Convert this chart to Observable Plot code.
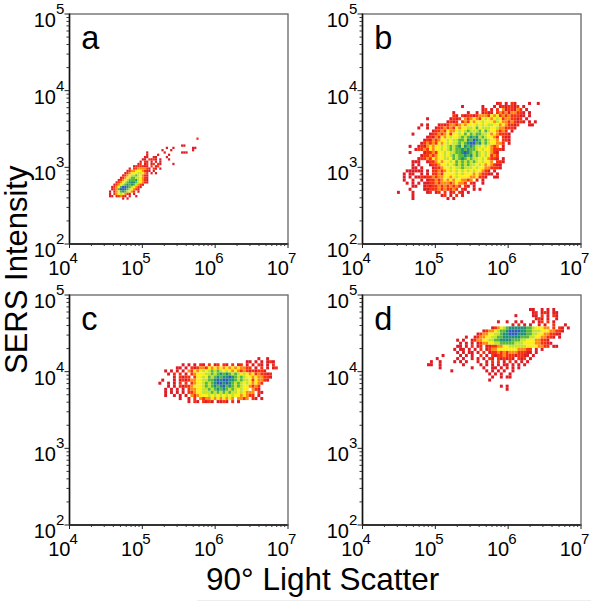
<!DOCTYPE html>
<html><head><meta charset="utf-8">
<script src="https://cdn.jsdelivr.net/npm/d3@7"></script>
<script src="https://cdn.jsdelivr.net/npm/@observablehq/plot@0.6"></script>
<style>
html,body{margin:0;padding:0;background:#fff;}
#page{position:relative;width:591px;height:601px;overflow:hidden;font-family:"Liberation Sans",Arial,sans-serif;color:#000;}
#page svg{position:absolute;overflow:visible;background:transparent;}
.t{position:absolute;white-space:nowrap;line-height:36px;font-family:"Liberation Sans",Arial,sans-serif;}
</style></head><body><div id="page"></div>
<script>
const xMajor=[1e4,1e5,1e6,1e7];
const yMajor=[1e2,1e3,1e4,1e5];
const multipliers=[2,3,4,5,6,7,8,9];
const levelColors=["#de1c26","#f8300e","#fd8c10","#feee18","#c4e42a","#58b83c","#1f8f78","#2c5cb8"];
const levels=[1,2,3,4,5,6,7,8];

// density level read per cell of each panel, top row first (blank = no events)
const gridA=[
"",
"                                        2",
"",
"",
"                                 11",
"                          1  1        11",
"                        1   1         1",
"                 1       1       111",
"                 1    1    1",
"                11  11    1",
"               11 2121 1   1",
"              1 21 1 1 1",
"             12 12 12 21     1",
"           1212211 2 12",
"         1 22333321 21 1",
"        12334443211 1",
"       12344455432 1 1",
"      123455654321",
"     1234566554321",
"    12345666754321",
"   123456777654321",
"  12345676765321",
" 12346887654321",
" 1236888654321",
"1 1346765432 1",
"1 23454321 1",
"11 12321 1  1",
"      1 1"];
const gridB=[
"                                  12 1 21    1  1",
"                      1      1   1 1212212 1",
"                             12 1 2 3122132 1",
"                   1    1  1 1211 2323133221 1",
"                   21 2122123332434232322211 1",
"          1       1212 32343245434542332212 1",
"                 1212 2324344544435433232121 1 1",
"        1 1   1212332343444545455443432212   11",
"       1  1  1223232434455464555445332221",
"            12232433454565556465443232 1",
"     1     1223234244546465665543432221",
"          1213243454456567675654432 211",
"         12132344545566576876565443 221",
"        12323243454556567886756544332 1",
"    1  1213434454565675767655454323 1",
"      1223243445456566767665454432221",
"    1    12232445455667876565454321",
"        122323445456566767565454232",
"       1223243445546567656554543221 1",
"     111  12234344546565656545443 221",
"     1 1   1223445456565655454343211",
"     11 1   122344545565554544332221",
"   111111 1 22323454545454544321 1",
"  1 11  1 1 223244445454443432211 1",
"  1 1 1121223233443454444334221  11",
"  1  1  1 1223234343443323 1 1",
"   1 1 1 112232333234332 21  1",
"     11  1212232323232 21 1",
"    1    112223232232 21  1 1",
"1    1    12 12 2 12 21 1",
"     1         12 1 2 1",
"     1           1 1"];
const gridC=[
"                                  1  1",
"                              11 1 1 121",
"        1 1 1 21 2 12 21 2 12 1 1 21 1 2",
"      11 1 212332434343434343322 1 2 1 12",
"  1 1 1 1 324345456565454343232121221",
"   1 2 2 1 2344455656767656545434232212",
"     1 2122 244546567677876565443433221",
" 1   1 1212334455667878877656554243321",
"1  1 1 2 2 2344565678878765654543432",
"   1 1 2122344456567678676565443232",
"  1 1 1 1 233445565676765654544 321",
"  1 1 1 1 22344555656565655454333 21",
"  1  1 1 1 3234445454545454434322 1",
"       1  1 2 323343434343 3323 21 1",
"          1 21 2121 1121 2 1"];
const gridD=[
"                                   11  1 1 1",
"                                    12 121 11",
"                              1     11 2 1 21",
"                                     121 1  1",
"                        1  1  1 1   1 12 2 1",
"                             1 2 1 1  1 1  2   1",
"                      12345677777766544433 2 21 1",
"                   1233456678888776655544433221",
"                 12334455677888777665544332211",
"             1  1233445566777777666554433221 1",
"          1 1  123344556677776665544433221",
"           1 1 1 12334455666665554444332211",
"          11 1 2 12 1122334455555544443322 11",
"         1 11 1 1 2 1233444444433322 1 1",
"          1 1 11 1 2 122323233322211 1",
"     1     1 1 1  2 1 2122322212211 1",
"   1      1 1  1 1 1 21 212121 212 1",
" 1  1    1 1 1   1  1 2 2 1 2 1 1 1",
"11  1       1     1 1 1 1 11 1 1 1",
"    1          1   1  11 1 1 1 1",
"        1           1 1 1 1  1",
"                     1 1 1  1",
"                      1  1 11",
"                     1",
"",
"                         1 1",
"                           1"];

const panels=[
 {name:"a",grid:gridA,lx:4.549,ly:3.412,step:0.03,left:0,top:0},
 {name:"b",grid:gridB,lx:4.480,ly:3.847,step:0.04,left:293,top:0},
 {name:"c",grid:gridC,lx:5.227,ly:4.183,step:0.04,left:0,top:281},
 {name:"d",grid:gridD,lx:4.893,ly:4.824,step:0.04,left:293,top:281}
];

function cellsOf(p){
  const out=[];
  p.grid.forEach((row,r)=>{[...row].forEach((ch,c)=>{
    if(ch===" ")return;
    out.push({x1:10**(p.lx+c*p.step),x2:10**(p.lx+(c+1)*p.step),
              y1:10**(p.ly-(r+1)*p.step),y2:10**(p.ly-r*p.step),level:+ch});
  });});
  return out;
}
const minorOf=m=>m.slice(0,3).flatMap(d=>multipliers.map(k=>d*k));
const exp=d=>String(Math.round(Math.log10(d)));
const page=document.getElementById("page");
const F="'Liberation Sans',Arial,sans-serif";

for(const p of panels){
  const svg=Plot.plot({
    width:295,height:288,
    marginLeft:69,marginRight:7.5,marginTop:13.5,marginBottom:44.5,
    x:{type:"log",domain:[1e4,1e7],axis:null},
    y:{type:"log",domain:[1e2,1e5],axis:null},
    color:{type:"ordinal",domain:levels,range:levelColors,legend:false},
    style:{background:"transparent",fontFamily:F},
    marks:[
      Plot.rect(cellsOf(p),{x1:"x1",x2:"x2",y1:"y1",y2:"y2",fill:"level",imageFilter:"blur(0.55px)"}),
      Plot.frame({stroke:"#707070",strokeWidth:1.4}),
      Plot.ruleX([1e4],{stroke:"#111",strokeWidth:1.5}),
      Plot.ruleY([1e2],{stroke:"#111",strokeWidth:1.5}),
      Plot.axisX({ticks:minorOf(xMajor),tickSize:2.5,tickFormat:()=>"",label:null,stroke:"#333"}),
      Plot.axisY({ticks:minorOf(yMajor),tickSize:2.5,tickFormat:()=>"",label:null,stroke:"#333"}),
      Plot.axisX({ticks:xMajor,tickSize:4.5,tickFormat:()=>"",label:null,stroke:"#222"}),
      Plot.axisY({ticks:yMajor,tickSize:4.5,tickFormat:()=>"",label:null,stroke:"#222"}),
      Plot.text(xMajor,{x:d=>d,y:()=>1e2,text:()=>"10",textAnchor:"end",lineAnchor:"bottom",dx:1,dy:31,fontSize:20,fill:"#000",fontFamily:F}),
      Plot.text(xMajor,{x:d=>d,y:()=>1e2,text:exp,textAnchor:"start",lineAnchor:"bottom",dx:0,dy:19,fontSize:15,fill:"#000",fontFamily:F}),
      Plot.text(yMajor,{x:()=>1e4,y:d=>d,text:()=>"10",textAnchor:"end",lineAnchor:"bottom",dx:-13.5,dy:13,fontSize:20,fill:"#000",fontFamily:F}),
      Plot.text(yMajor,{x:()=>1e4,y:d=>d,text:exp,textAnchor:"start",lineAnchor:"bottom",dx:-13.5,dy:0,fontSize:15,fill:"#000",fontFamily:F}),
      Plot.text([p.name],{x:()=>10**4.16,y:()=>10**4.5,text:d=>d,textAnchor:"start",lineAnchor:"bottom",dy:-3,fontSize:32.5,fill:"#000",fontFamily:F})
    ]
  });
  svg.style.left=p.left+"px";svg.style.top=p.top+"px";
  page.appendChild(svg);
}
const xt=document.createElement("div");xt.className="t";xt.textContent="90° Light Scatter";
xt.style.cssText="left:206px;top:561px;font-size:31.5px;";page.appendChild(xt);
const yt=document.createElement("div");yt.className="t";yt.textContent="SERS Intensity";
yt.style.cssText="left:0;top:0;font-size:31px;transform-origin:0 0;transform:translate(-1px,374px) rotate(-90deg);";page.appendChild(yt);
const ln=document.createElement("div");ln.style.cssText="position:absolute;left:197px;right:0;top:600px;height:1px;background:#eeeeee;";page.appendChild(ln);
</script></body></html>
